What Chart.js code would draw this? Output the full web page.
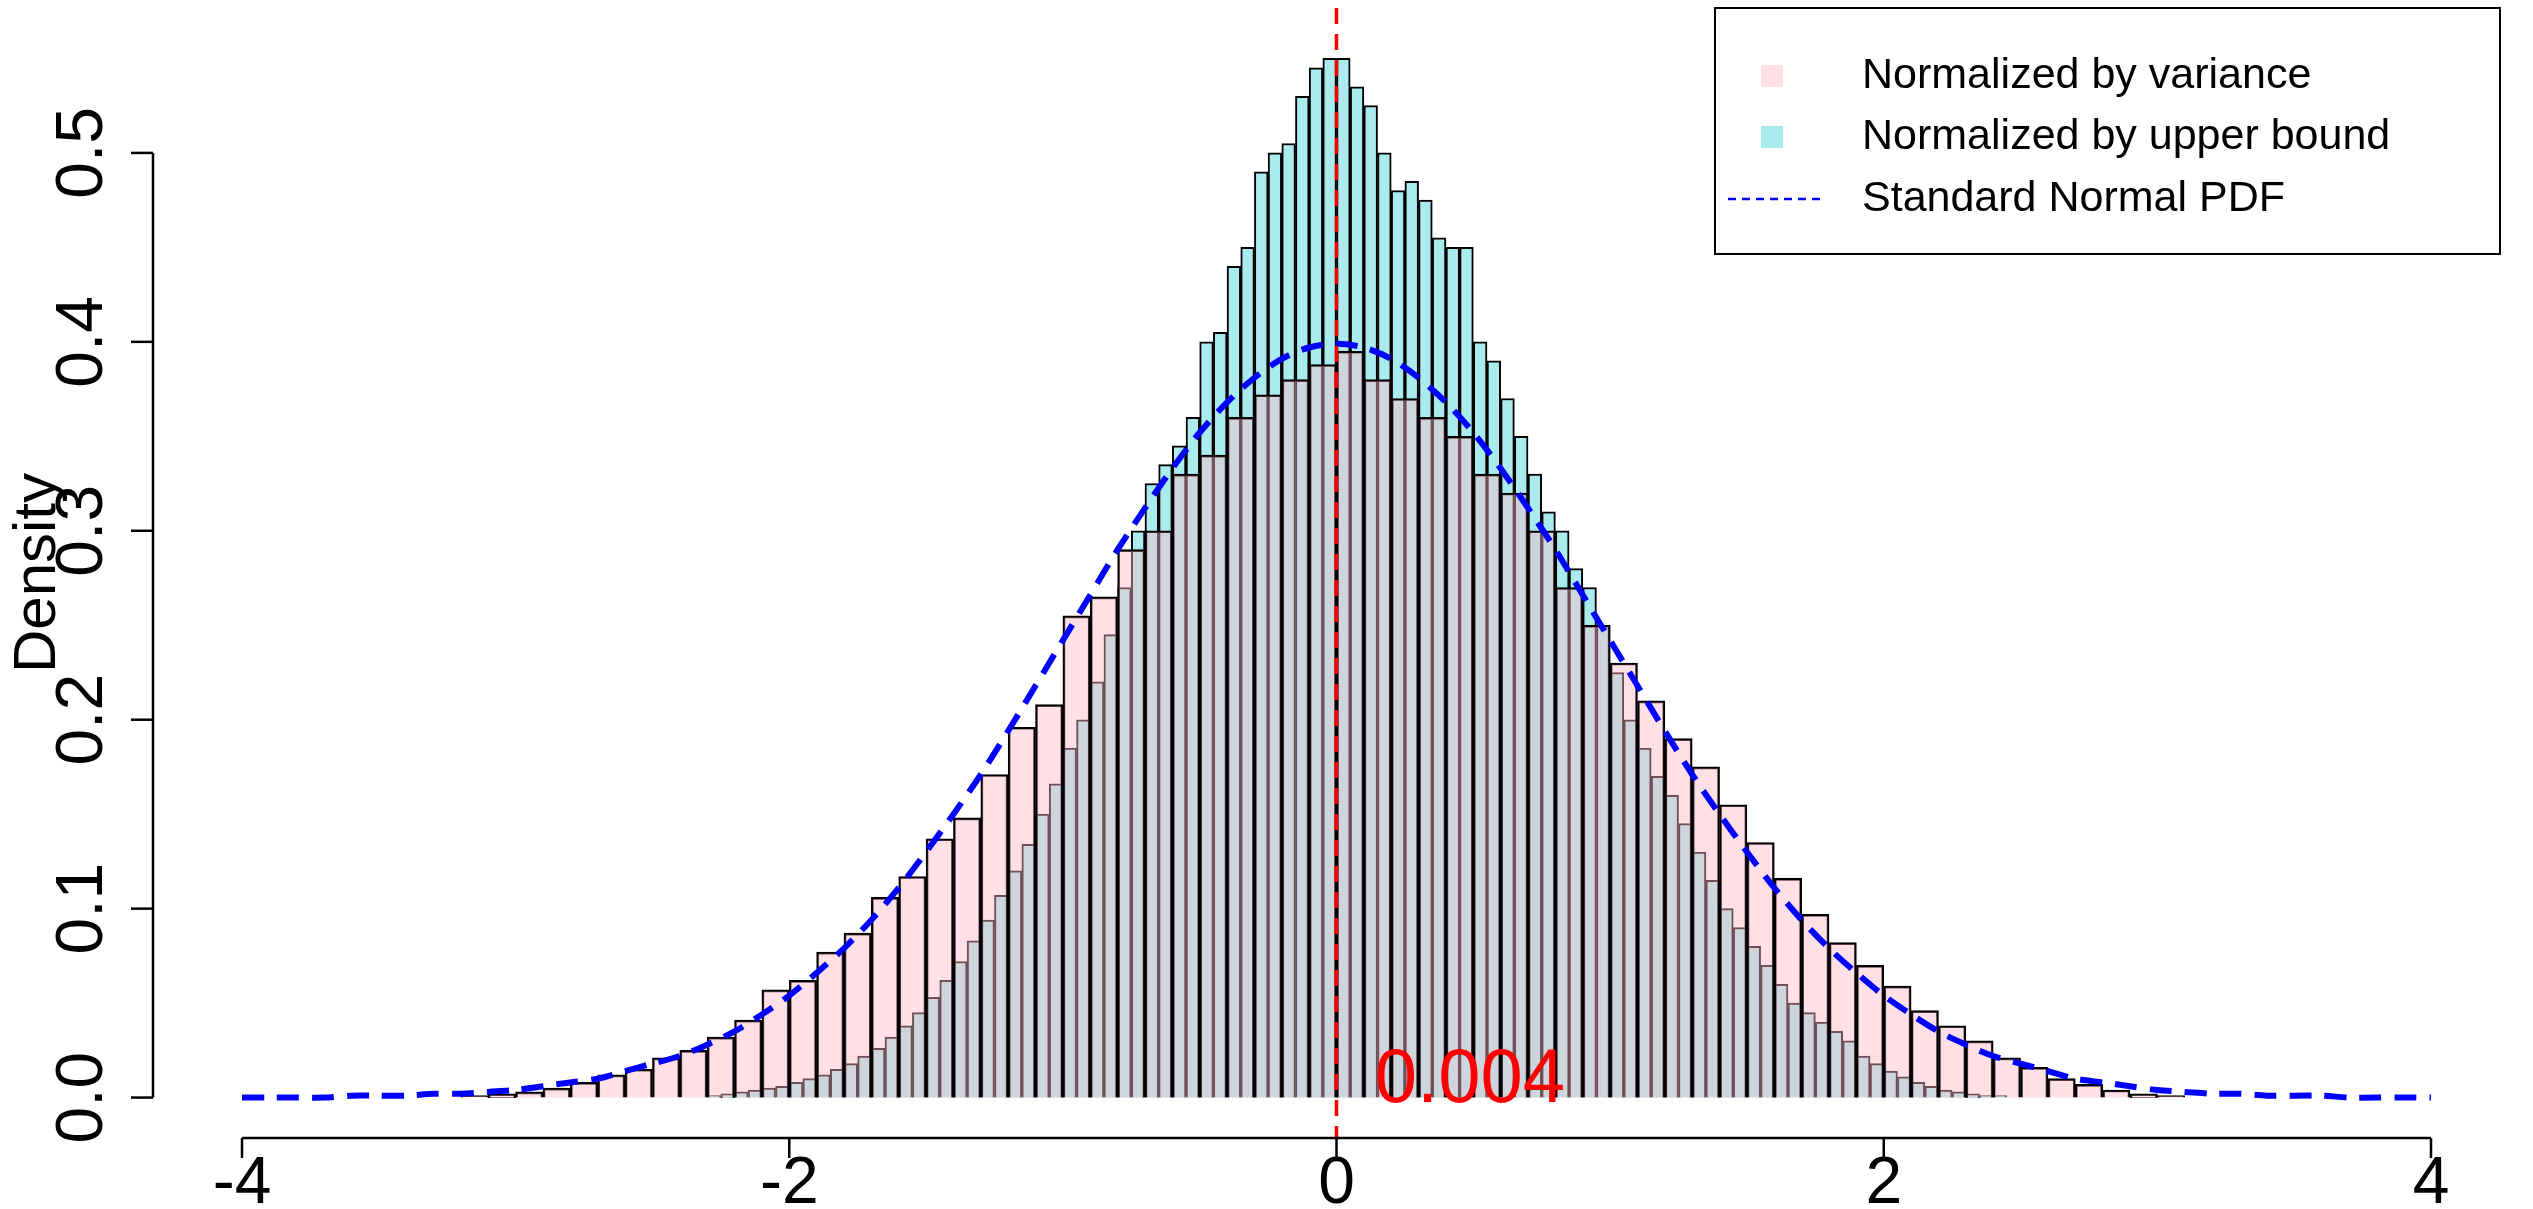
<!DOCTYPE html>
<html><head><meta charset="utf-8">
<script src="https://cdn.jsdelivr.net/npm/chart.js@4"></script>
<style>html,body{margin:0;padding:0;background:#fff}#w{width:2533px;height:1209px}</style>
</head><body><div id="w"><canvas id="c"></canvas></div>
<script>
// Pink histogram (normalized by variance), bin width 0.1, visible bins from centre -3.15 to 3.05
const pinkStart = -3.15;
const pinkValues = [0.001,0.002,0.003,0.005,0.008,0.012,0.015,0.021,0.025,0.032,0.041,0.057,0.062,0.077,0.087,0.106,0.117,0.137,0.148,0.171,0.196,0.208,0.255,0.265,0.29,0.30,0.33,0.34,0.36,0.372,0.38,0.388,0.395,0.38,0.37,0.36,0.35,0.33,0.32,0.30,0.27,0.25,0.23,0.21,0.19,0.175,0.155,0.135,0.116,0.097,0.082,0.07,0.059,0.046,0.038,0.03,0.021,0.016,0.010,0.007,0.004,0.002,0.001];
// Cyan histogram (normalized by upper bound), bin width 0.05, visible bins from centre -2.275
const cyanStart = -2.275;
const cyanValues = [0.001,0.002,0.003,0.004,0.005,0.006,0.008,0.010,0.012,0.015,0.018,0.022,0.026,0.032,0.038,0.045,0.053,0.062,0.072,0.083,0.094,0.107,0.120,0.134,0.150,0.166,0.185,0.2,0.22,0.245,0.27,0.30,0.325,0.335,0.345,0.36,0.40,0.405,0.44,0.45,0.49,0.50,0.505,0.53,0.545,0.55,0.55,0.535,0.525,0.50,0.48,0.485,0.475,0.455,0.45,0.45,0.40,0.39,0.37,0.35,0.33,0.31,0.30,0.28,0.27,0.25,0.225,0.20,0.185,0.17,0.16,0.145,0.13,0.115,0.10,0.09,0.08,0.07,0.06,0.05,0.045,0.04,0.035,0.03,0.022,0.018,0.014,0.011,0.008,0.006,0.004,0.003,0.002,0.001,0.001];
// Standard normal PDF read at x = -4..4 step 0.1
const pdfX = [];
for (let i=0;i<=80;i++) pdfX.push(+(-4+0.1*i).toFixed(1));
const pdfHalf = [0.399,0.397,0.391,0.381,0.368,0.352,0.333,0.312,0.290,0.266,0.242,0.218,0.194,0.171,0.150,0.130,0.111,0.094,0.079,0.066,0.054,0.044,0.035,0.028,0.022,0.018,0.014,0.010,0.008,0.006,0.004,0.003,0.002,0.002,0.001,0.001,0.001,0,0,0,0];
const pdfValues = pdfHalf.slice(1).reverse().concat(pdfHalf);
const yTicks = [0.0,0.1,0.2,0.3,0.4,0.5];
const yTickLabels = ['0.0','0.1','0.2','0.3','0.4','0.5'];
const xTicks = [-4,-2,0,2,4];
const xTickLabels = ['-4','-2','0','2','4'];
const legendLabels = ['Normalized by variance','Normalized by upper bound','Standard Normal PDF'];
const annotationText = '0.004';

function bins(width, start, vals){
  const n = Math.round(8/width), labels=[], data=[];
  const off = Math.round((start - (-4+width/2))/width);
  for(let i=0;i<n;i++){ labels.push(i); const v = vals[i-off]; data.push(v===undefined?null:v); }
  return {labels,data};
}
const pb = bins(0.1,pinkStart,pinkValues), cb = bins(0.05,cyanStart,cyanValues);

const FONT='"Liberation Sans", Arial, sans-serif';
const deco = {
  id:'deco',
  afterDatasetsDraw(chart){
    const ctx=chart.ctx, x=chart.scales.x, y=chart.scales.y;
    ctx.save();
    ctx.strokeStyle='#ff0000'; ctx.lineWidth=3.5; ctx.setLineDash([16,10]);
    ctx.beginPath(); ctx.moveTo(x.getPixelForValue(0),8); ctx.lineTo(x.getPixelForValue(0),chart.chartArea.bottom); ctx.stroke();
    ctx.setLineDash([]);
    ctx.fillStyle='#ff0000'; ctx.font='76px '+FONT; ctx.textBaseline='alphabetic'; ctx.textAlign='left';
    ctx.fillText(annotationText, x.getPixelForValue(0.14), y.getPixelForValue(0)+4);
    ctx.strokeStyle='#000'; ctx.lineWidth=2.5; ctx.fillStyle='#000';
    const ax=153;
    ctx.beginPath(); ctx.moveTo(ax,y.getPixelForValue(0)); ctx.lineTo(ax,y.getPixelForValue(0.5)); ctx.stroke();
    ctx.font='66px '+FONT; ctx.textAlign='center'; ctx.textBaseline='middle';
    yTicks.forEach((t,i)=>{const p=y.getPixelForValue(t);
      ctx.beginPath(); ctx.moveTo(ax,p); ctx.lineTo(ax-22,p); ctx.stroke();
      ctx.save(); ctx.translate(84,p); ctx.rotate(-Math.PI/2); ctx.fillText(yTickLabels[i],0,0); ctx.restore();});
    ctx.save(); ctx.translate(38,573); ctx.rotate(-Math.PI/2); ctx.font='60px '+FONT; ctx.fillText('Density',0,0); ctx.restore();
    const ay=1138;
    ctx.beginPath(); ctx.moveTo(x.getPixelForValue(-4),ay); ctx.lineTo(x.getPixelForValue(4),ay); ctx.stroke();
    ctx.textBaseline='alphabetic';
    xTicks.forEach((t,i)=>{const p=x.getPixelForValue(t);
      ctx.beginPath(); ctx.moveTo(p,ay); ctx.lineTo(p,ay+20); ctx.stroke();
      ctx.fillText(xTickLabels[i],p,1203);});
    ctx.lineWidth=2; ctx.strokeRect(1715,8,785,246);
    ctx.textAlign='left'; ctx.textBaseline='middle'; ctx.font='43px '+FONT;
    const rows=[76,137,199];
    ctx.fillStyle='rgba(255,184,198,0.435)'; ctx.fillRect(1761,rows[0]-11,22,22);
    ctx.fillStyle='rgb(170,235,238)'; ctx.fillRect(1761,rows[1]-11,22,22);
    ctx.strokeStyle='#0000ff'; ctx.lineWidth=2.5; ctx.setLineDash([8,6]);
    ctx.beginPath(); ctx.moveTo(1728,rows[2]); ctx.lineTo(1822,rows[2]); ctx.stroke(); ctx.setLineDash([]);
    ctx.fillStyle='#000';
    legendLabels.forEach((l,i)=>ctx.fillText(l,1862,rows[i]));
    ctx.restore();
  }
};

new Chart(document.getElementById('c'),{
  data:{datasets:[
    {type:'line',label:legendLabels[2],data:pdfX.map((v,i)=>({x:v,y:pdfValues[i]})),xAxisID:'x',yAxisID:'y',
     borderColor:'#0000ff',borderWidth:6,borderDash:[22,13],pointRadius:0,tension:0.3,fill:false,order:0},
    {type:'bar',label:legendLabels[0],data:pb.data,xAxisID:'xp',yAxisID:'y',backgroundColor:'rgba(255,184,198,0.435)',
     borderColor:'#000',borderWidth:2,barPercentage:1,categoryPercentage:1,grouped:false,order:1},
    {type:'bar',label:legendLabels[1],data:cb.data,xAxisID:'xc',yAxisID:'y',backgroundColor:'rgb(170,235,238)',
     borderColor:'#000',borderWidth:2,barPercentage:1,categoryPercentage:1,grouped:false,order:2}
  ]},
  options:{
    responsive:true,maintainAspectRatio:false,animation:false,devicePixelRatio:1,
    layout:{padding:{left:242,right:102,top:32,bottom:71}},
    plugins:{legend:{display:false},tooltip:{enabled:false}},
    scales:{
      x:{type:'linear',min:-4,max:4,display:false},
      xp:{type:'category',labels:pb.labels,offset:true,display:false},
      xc:{type:'category',labels:cb.labels,offset:true,display:false},
      y:{type:'linear',min:-0.0214,max:0.564,display:false}
    }
  },
  plugins:[deco]
});
</script></body></html>
